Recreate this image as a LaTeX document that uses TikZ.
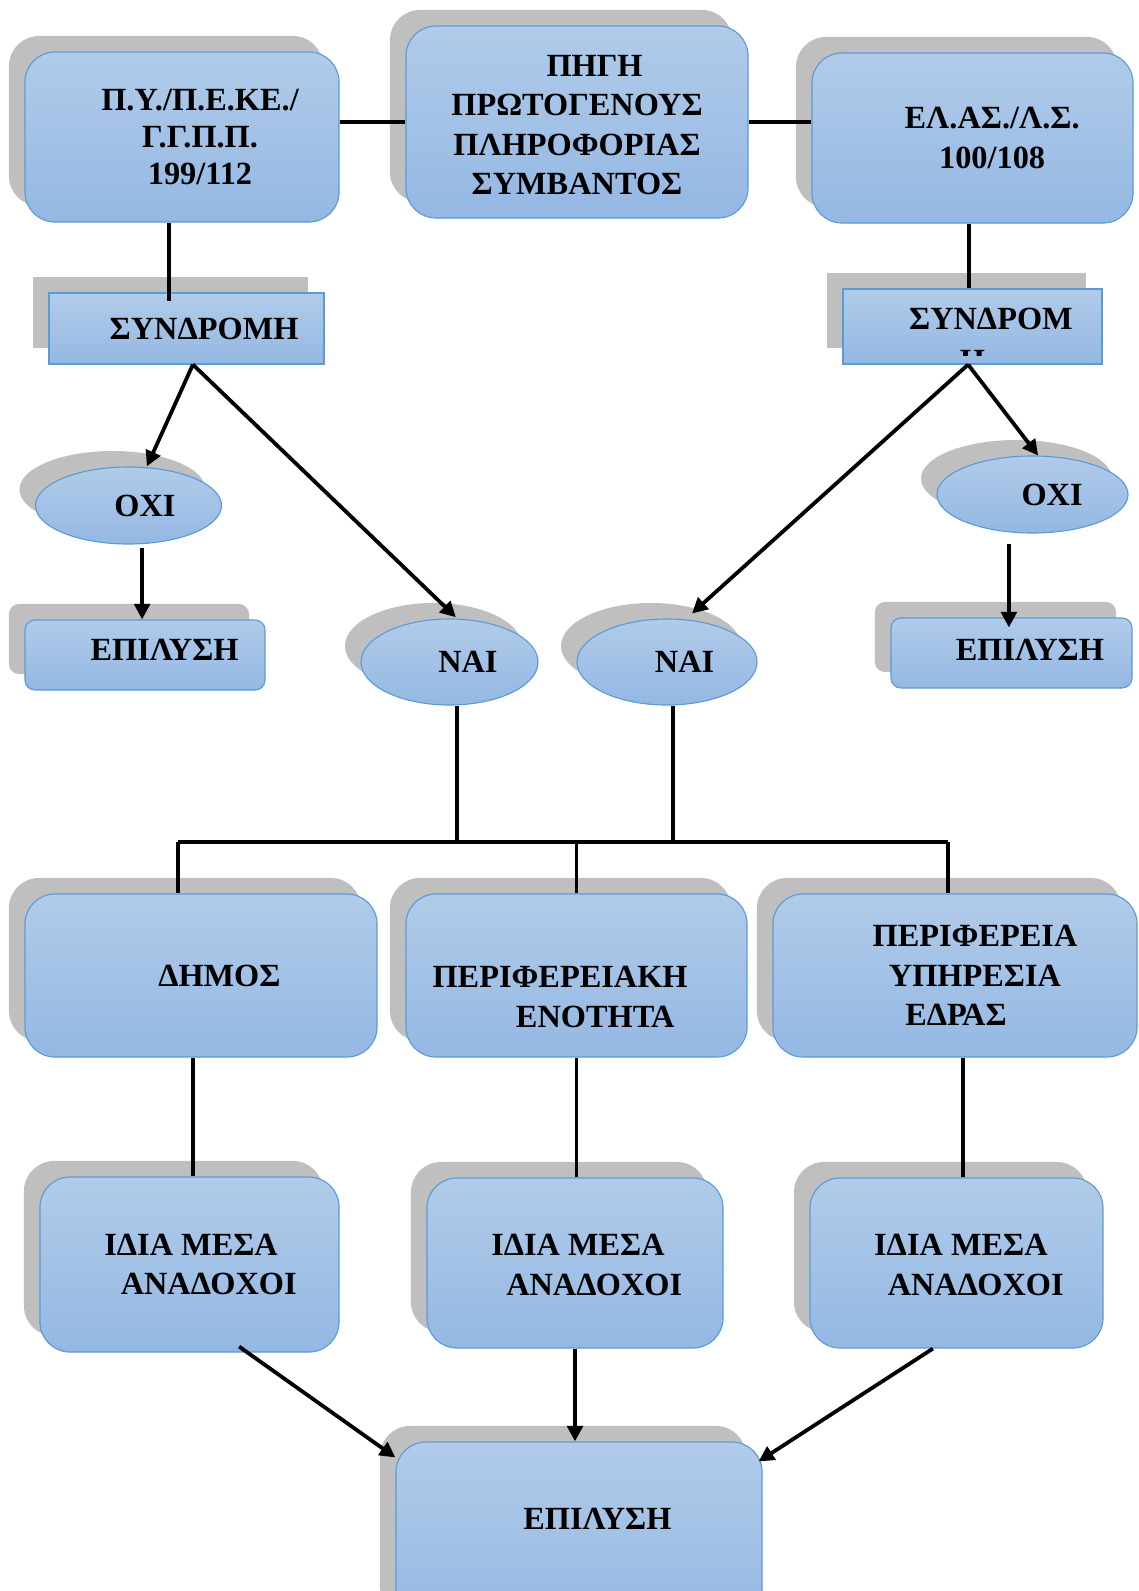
\documentclass[tikz,border=0pt]{standalone}
\usepackage{fontspec}
\setmainfont{Liberation Serif}
\usetikzlibrary{arrows.meta,shapes.geometric,shadows}
\definecolor{boxtop}{HTML}{B1CBE9}
\definecolor{boxbot}{HTML}{94B8E3}
\definecolor{boxline}{HTML}{5B9BD5}
\definecolor{shadowgray}{HTML}{BFBFBF}
\begin{document}
\begin{tikzpicture}[x=0.025cm,y=-0.025cm,>={Triangle[length=11pt,width=11pt]},
  base/.style={draw=boxline,line width=0.8pt,top color=boxtop,bottom color=boxbot,
    drop shadow={shadow xshift=-0.4cm,shadow yshift=0.4cm,fill=shadowgray,opacity=1}},
  rbox/.style={base,rounded corners=0.75cm},
  sbox/.style={base,rounded corners=0.25cm},
  oval/.style={base,ellipse},
  lbl/.style={font=\bfseries\fontsize{23}{28}\selectfont,align=center},
  conn/.style={line width=2.7pt}]
\clip (0,0) rectangle (1138,1591);

\node[rbox,minimum width=7.85cm,minimum height=4.25cm,label={[lbl,font=\bfseries\fontsize{23}{26}\selectfont,xshift=0.45cm]center:{Π.Υ./Π.Ε.ΚΕ./\\Γ.Γ.Π.Π.\\199/112}}] (pyp) at (182,137) {};
\node[rbox,minimum width=8.55cm,minimum height=4.8cm,label={[lbl,yshift=-0.075cm]center:{\hspace*{25pt}ΠΗΓΗ\\ΠΡΩΤΟΓΕΝΟΥΣ\\ΠΛΗΡΟΦΟΡΙΑΣ\\ΣΥΜΒΑΝΤΟΣ}}] (pigi) at (577,122) {};
\node[rbox,minimum width=8.025cm,minimum height=4.25cm,label={[lbl,xshift=0.49cm]center:{ΕΛ.ΑΣ./Λ.Σ.\\100/108}}] (elas) at (972.5,138) {};

\node[base,minimum width=6.875cm,minimum height=1.775cm,label={[lbl,xshift=0.44cm]center:ΣΥΝΔΡΟΜΗ}] (syndL) at (186.5,328.5) {};
\node[base,minimum width=6.475cm,minimum height=1.875cm,path picture={
  \clip ([yshift=0.225cm]path picture bounding box.south west) rectangle (path picture bounding box.north east);
  \node[lbl] at ([xshift=0.46cm,yshift=0.19cm]path picture bounding box.center) {ΣΥΝΔΡΟΜ};
  \node[lbl] at ([yshift=-0.86cm]path picture bounding box.center) {Η};}] (syndR) at (972.5,326.5) {};

\node[oval,minimum width=4.65cm,minimum height=1.925cm,label={[lbl,xshift=0.41cm]center:ΟΧΙ}] (ochiL) at (128.5,505.5) {};
\node[sbox,minimum width=6cm,minimum height=1.75cm,label={[lbl,xshift=0.49cm,yshift=0.125cm]center:ΕΠΙΛΥΣΗ}] (epilL) at (145,655) {};
\node[oval,minimum width=4.425cm,minimum height=2.15cm,label={[lbl,xshift=0.46cm]center:ΝΑΙ}] (naiL) at (449.5,662) {};
\node[oval,minimum width=4.5cm,minimum height=2.15cm,label={[lbl,xshift=0.44cm]center:ΝΑΙ}] (naiR) at (667,662) {};
\node[oval,minimum width=4.775cm,minimum height=1.925cm,label={[lbl,xshift=0.49cm]center:ΟΧΙ}] (ochiR) at (1032.5,494.5) {};
\node[sbox,minimum width=6.025cm,minimum height=1.75cm,label={[lbl,xshift=0.46cm,yshift=0.075cm]center:ΕΠΙΛΥΣΗ}] (epilR) at (1011.5,653) {};

\node[rbox,minimum width=8.8cm,minimum height=4.075cm,label={[lbl,xshift=0.46cm]center:ΔΗΜΟΣ}] (dimos) at (201,975.5) {};
\node[rbox,minimum width=8.525cm,minimum height=4.075cm,label={[lbl,xshift=-0.41cm,yshift=-0.54cm]center:{ΠΕΡΙΦΕΡΕΙΑΚΗ\\\hspace*{50pt}ΕΝΟΤΗΤΑ}}] (perEn) at (576.5,975.5) {};
\node[rbox,minimum width=9.1cm,minimum height=4.075cm,label={[lbl,xshift=0.5cm]center:{ΠΕΡΙΦΕΡΕΙΑ\\ΥΠΗΡΕΣΙΑ\\ΕΔΡΑΣ\hspace*{27pt}}}] (perYp) at (955,975.5) {};

\node[rbox,minimum width=7.475cm,minimum height=4.375cm,label={[lbl,xshift=0.04cm]center:{ΙΔΙΑ ΜΕΣΑ\\\hspace*{25pt}ΑΝΑΔΟΧΟΙ}}] (idiaL) at (189.5,1264.5) {};
\node[rbox,minimum width=7.4cm,minimum height=4.25cm,label={[lbl,xshift=0.075cm,yshift=-0.05cm]center:{ΙΔΙΑ ΜΕΣΑ\\\hspace*{23pt}ΑΝΑΔΟΧΟΙ}}] (idiaM) at (575,1263) {};
\node[rbox,minimum width=7.325cm,minimum height=4.25cm,label={[lbl,xshift=0.11cm,yshift=-0.05cm]center:{ΙΔΙΑ ΜΕΣΑ\\\hspace*{21pt}ΑΝΑΔΟΧΟΙ}}] (idiaR) at (956.5,1263) {};

\node[rbox,minimum width=9.15cm,minimum height=4.75cm,label={[lbl,xshift=0.46cm,yshift=0.45cm]center:ΕΠΙΛΥΣΗ}] (epilB) at (579,1537) {};

\draw[conn] (pyp.east |- pigi.west) -- (pigi.west);
\draw[conn] (pigi.east) -- (pigi.east -| elas.west);
\draw[conn] ([xshift=-0.325cm]pyp.south) -- ([xshift=-0.325cm,yshift=-0.225cm]pyp.south |- syndL.north);
\draw[conn] ([xshift=-0.09cm]elas.south) -- ([xshift=-0.09cm]elas.south |- syndR.north);

\draw[conn,->] ([xshift=0.16cm]syndL.south) -- ([xshift=0.46cm]ochiL.north);
\draw[conn,->] ([xshift=0.16cm]syndL.south) -- ([xshift=0.16cm,yshift=0.03cm]naiL.north);
\draw[conn,->] ([xshift=-0.11cm]syndR.south) -- ([xshift=0.14cm]ochiR.north);
\draw[conn,->] ([xshift=-0.11cm]syndR.south) -- ([xshift=0.625cm,yshift=0.125cm]naiR.north);
\draw[conn,->] ([xshift=0.34cm,yshift=-0.075cm]ochiL.south) -- ([xshift=0.34cm]ochiL.south |- epilL.north);
\draw[conn,->] ([xshift=-0.59cm,yshift=-0.25cm]ochiR.south) -- ([xshift=-0.59cm,yshift=-0.25cm]ochiR.south |- epilR.north);

\coordinate (busL) at (178,842);
\coordinate (busR) at (948,842);
\draw[conn] (busL) -- (busR);
\draw[conn] ([xshift=0.19cm]naiL.south) -- ([xshift=0.19cm]naiL.south |- busL);
\draw[conn] ([xshift=0.15cm]naiR.south) -- ([xshift=0.15cm]naiR.south |- busL);
\draw[conn] (busL) -- (busL |- dimos.north);
\draw[conn] (perEn.north |- busL) -- (perEn.north);
\draw[conn] (busR) -- (busR |- perYp.north);

\draw[conn] ([xshift=0.09cm]idiaL.north |- dimos.south) -- ([xshift=0.09cm]idiaL.north);
\draw[conn] (perEn.south) -- (perEn.south |- idiaM.north);
\draw[conn] ([xshift=0.2cm]perYp.south) -- ([xshift=0.2cm]perYp.south |- idiaR.north);

\draw[conn,->] ([xshift=1.24cm,yshift=0.15cm]idiaL.south) -- ([yshift=-0.4cm]epilB.north west);
\draw[conn,->] (idiaM.south) -- (idiaM.south |- epilB.north);
\draw[conn,->] ([xshift=-0.59cm]idiaR.south) -- ([xshift=-0.1cm,yshift=-0.5cm]epilB.north east);
\end{tikzpicture}
\end{document}
